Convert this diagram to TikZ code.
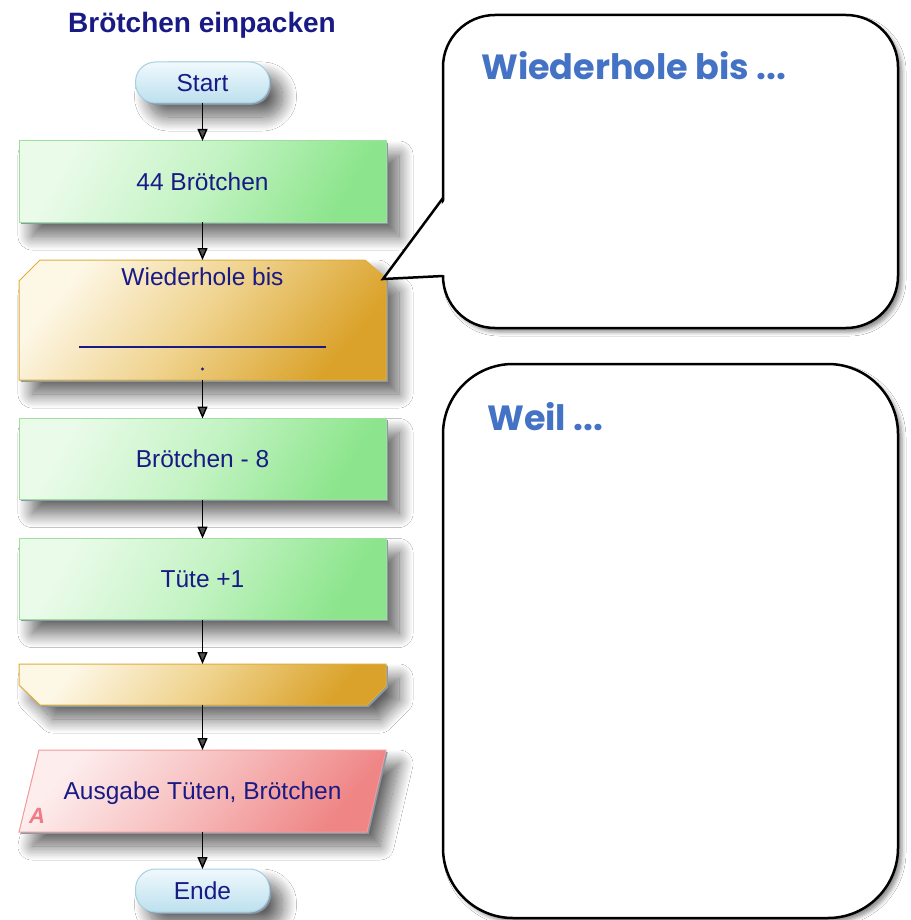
\documentclass[tikz,border=0pt]{standalone}
\usepackage{fontspec}
\setmainfont{Liberation Sans}
\newfontfamily\hand{Poppins}
\usetikzlibrary{arrows.meta,shadows,shadows.blur}
\definecolor{navy}{HTML}{1A1A86}
\definecolor{glight}{HTML}{EAFBEA}
\definecolor{gmid}{HTML}{C4F3C4}
\definecolor{gdark}{HTML}{8CE58C}
\definecolor{gborder}{HTML}{9EDF9E}
\definecolor{olight}{HTML}{FDF7E6}
\definecolor{omid}{HTML}{EFD28C}
\definecolor{odark}{HTML}{DAA22A}
\definecolor{oborder}{HTML}{DEAE3A}
\definecolor{plight}{HTML}{FDEDED}
\definecolor{pmid}{HTML}{F7BDBD}
\definecolor{pdark}{HTML}{EF8585}
\definecolor{pborder}{HTML}{F19A9A}
\definecolor{blight}{HTML}{F0F9FD}
\definecolor{bdark}{HTML}{BCE0EE}
\definecolor{bborder}{HTML}{A6D1E2}
\definecolor{handblue}{HTML}{4472C4}
\definecolor{amark}{HTML}{F07A86}
\definecolor{hardshadow}{HTML}{8A98A8}
\begin{document}
\begin{tikzpicture}[x=1pt,y=-1pt,
  softshadow/.style={blur shadow={shadow xshift=13pt,shadow yshift=-14pt,shadow blur radius=14pt,shadow opacity=62,shadow blur steps=24},
                     drop shadow={shadow xshift=1.8pt,shadow yshift=-1.8pt,fill=hardshadow,opacity=1}},
  fc/.style={inner sep=0pt,outer sep=0pt,line width=1pt,text=navy,font=\fontsize{24.5}{28}\selectfont,text height=17.5pt,text depth=0pt},
  pill/.style={fc,draw=bborder,rectangle,rounded corners=20pt,minimum width=134pt,top color=blight,bottom color=bdark,softshadow},
  gbox/.style={fc,draw=gborder,minimum width=367pt,minimum height=81pt,top color=glight,bottom color=gdark,middle color=gmid,shading angle=60,softshadow},
  goldshape/.style={draw=oborder,line width=1pt,top color=olight,bottom color=odark,middle color=omid,shading angle=50,softshadow},
  pinkshape/.style={draw=pborder,line width=1pt,top color=plight,bottom color=pdark,middle color=pmid,shading angle=50,softshadow},
  arr/.style={line width=1.4pt,-{Triangle[length=12pt,width=10pt]}},
  callout/.style={draw=black,line width=2.5pt,fill=white,inner sep=0pt,outer sep=0pt,blur shadow={shadow xshift=4pt,shadow yshift=-4pt,shadow blur radius=4pt,shadow opacity=45}},
  handtext/.style={font=\hand\bfseries\fontsize{35}{40}\selectfont,text=handblue,anchor=base west,inner sep=0pt}
]
\useasboundingbox (0,0) rectangle (910,920);
\fill[white] (0,0) rectangle (910,920);

% title
\node[font=\bfseries\fontsize{28}{32}\selectfont,text=navy,anchor=base,inner sep=0pt] (title) at (202,33) {Brötchen einpacken};

% flowchart
\node[pill,minimum height=41pt] (start) at (202.5,82.5) {Start};
\node[gbox] (b44) at (202.5,181.5) {44 Brötchen};

\path[goldshape] (19,380) -- (19,281) -- (40,260) -- (365,260) -- (386,278) -- (386,380) -- cycle;
\node[fc,minimum width=367pt,minimum height=120pt] (loop) at (202.5,320) {};
\node[fc,anchor=base] (looptext) at (202.5,285) {Wiederhole bis};
\draw[navy,line width=2.5pt] (79,347) -- (326,347);
\fill[navy] (202.5,369) circle[radius=1.6];

\node[gbox] (b8) at (202.5,459) {Brötchen - 8};
\node[gbox] (tuete) at (202.5,579) {Tüte +1};

\path[goldshape] (19,664) -- (386,664) -- (386,686) -- (367,705) -- (40,705) -- (19,685) -- cycle;
\node[fc,minimum width=367pt,minimum height=41pt] (loopend) at (202.5,684.5) {};

\path[pinkshape] (39,750) -- (386,750) -- (367,832) -- (19,832) -- cycle;
\node[fc,minimum width=300pt,minimum height=82pt] (out) at (202.5,791) {Ausgabe Tüten, Brötchen};
\node[font=\bfseries\itshape\fontsize{22}{24}\selectfont,text=amark,anchor=base west,inner sep=0pt] (amark) at (29,823) {A};

\node[pill,minimum height=43pt] (ende) at (202.5,890.5) {Ende};

\draw[arr] (start) -- (b44);
\draw[arr] (b44) -- (loop);
\draw[arr] (loop) -- (b8);
\draw[arr] (b8) -- (tuete);
\draw[arr] (tuete) -- (loopend);
\draw[arr] (loopend) -- (out);
\draw[arr] (out) -- (ende);

% callouts
\node[callout,minimum width=455pt,minimum height=313pt,rounded corners=52pt] (c1) at (670.5,171.5) {};
\coordinate (tip) at (383,279);
\fill[white] (446,199) -- (tip) -- (446,275) -- cycle;
\draw[line width=2.5pt,line join=miter] (443,198) -- (tip) -- (443,276);
\node[handtext] (t1) at (481,80) {Wiederhole bis ...};

\node[callout,minimum width=455pt,minimum height=554pt,rounded corners=70pt] (c2) at (670.5,641) {};
\node[handtext] (t2) at (487,430) {Weil ...};
\end{tikzpicture}
\end{document}
